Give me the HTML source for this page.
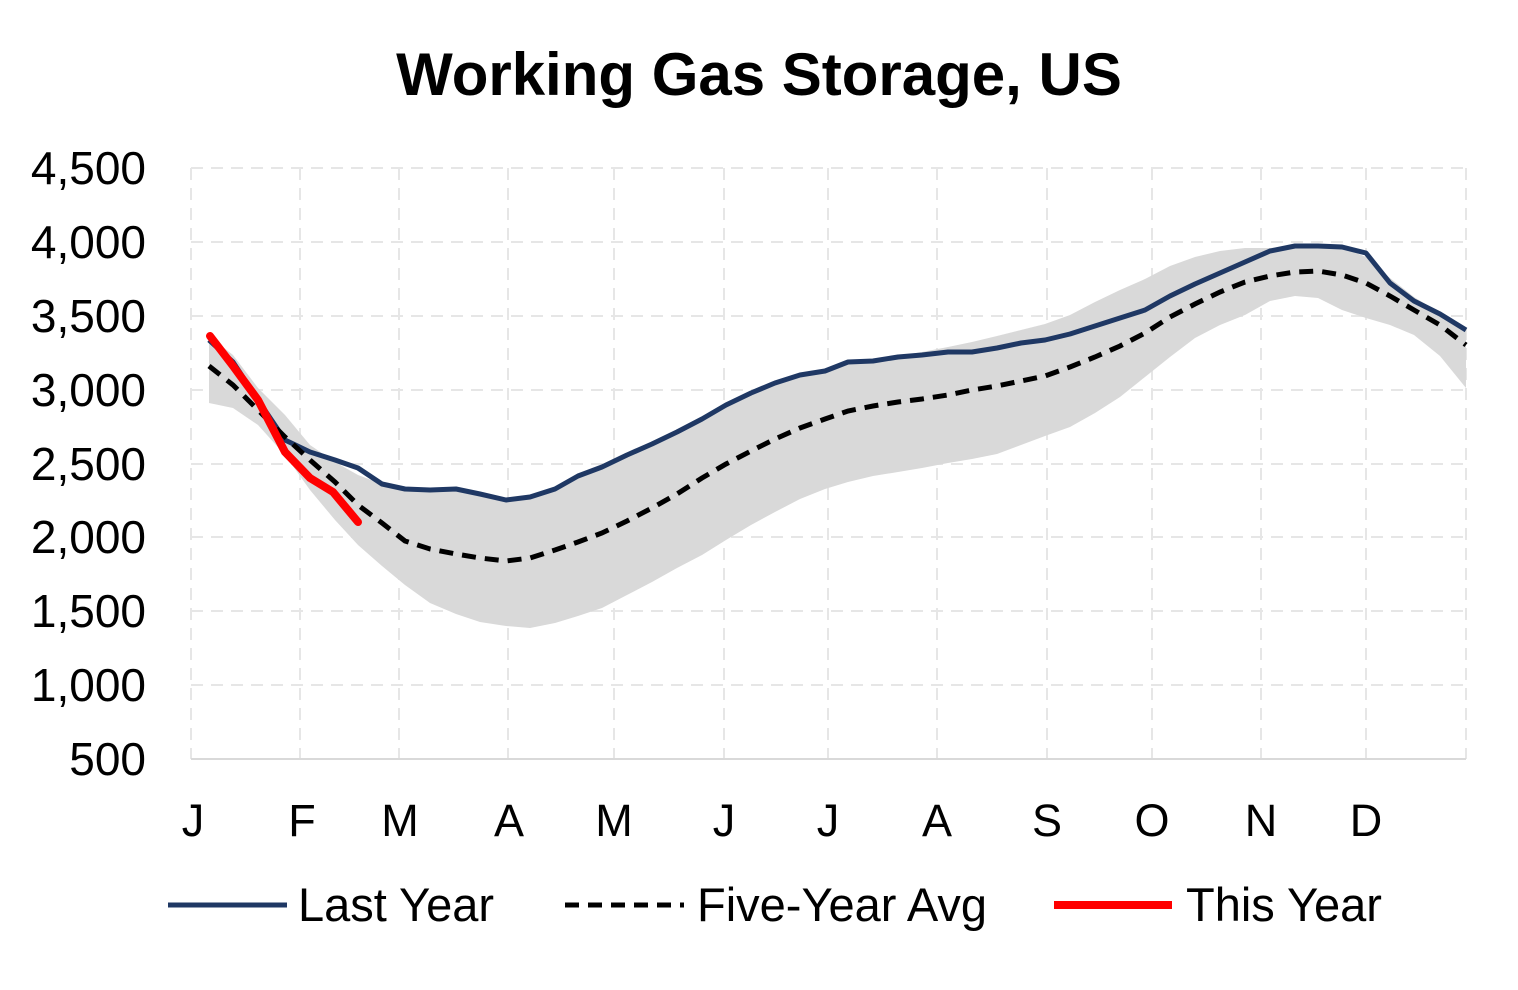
<!DOCTYPE html>
<html><head><style>body{margin:0;background:#fff}svg{display:block}text{font-family:"Liberation Sans",sans-serif}</style></head><body>
<svg width="1518" height="990" xmlns="http://www.w3.org/2000/svg">
<text x="759" y="95" text-anchor="middle" font-size="60" font-weight="bold">Working Gas Storage, US</text>
<g stroke="#e6e6e6" stroke-width="2" stroke-dasharray="12,8" fill="none">
<path d="M191 168H1466M191 242H1466M191 316H1466M191 390H1466M191 464H1466M191 537H1466M191 611H1466M191 685H1466"/>
<path d="M191 168V759M300 168V759M399 168V759M508 168V759M614 168V759M724 168V759M828 168V759M937 168V759M1047 168V759M1152 168V759M1261 168V759M1366 168V759M1466 168V759"/>
</g>
<polygon fill="#d9d9d9" points="209,336 233,355 258,388 285,415 310,445 335,462 358,475 382,484 405,489 430,490 456,489 480,494 506,500 530,497 555,489 578,476 602,467 627,455 652,444 677,432 702,419 726,405 751,393 775,383 800,375 825,371 848,362 873,360 898,356 922,352 948,347 972,342 997,336 1021,330 1045,324 1070,315 1095,302 1120,290 1145,279 1170,266 1195,257 1220,251 1245,248 1270,248 1295,246 1318,246 1342,247 1366,257 1390,278 1414,297 1440,313 1466,327 1466,388 1440,356 1414,335 1390,325 1366,318 1342,310 1318,298 1295,296 1270,301 1245,315 1220,325 1195,338 1170,357 1145,377 1120,397 1095,413 1070,427 1045,436 1021,445 997,454 972,459 948,463 922,468 898,472 873,476 848,482 825,489 800,499 775,512 751,525 726,540 702,555 677,568 652,582 627,595 602,608 578,616 555,623 530,628 506,626 480,622 456,614 430,603 405,585 382,566 358,545 335,520 310,490 285,455 258,425 233,408 209,403"/>
<line x1="191" y1="759" x2="1466" y2="759" stroke="#d9d9d9" stroke-width="2"/>
<polyline fill="none" stroke="#1f3864" stroke-width="5" stroke-linejoin="round" points="209,340 233,362 258,400 285,440 310,452 335,460 358,468 382,484 405,489 430,490 456,489 480,494 506,500 530,497 555,489 578,476 602,467 627,455 652,444 677,432 702,419 726,405 751,393 775,383 800,375 825,371 848,362 873,361 898,357 922,355 948,352 972,352 997,348 1021,343 1045,340 1070,334 1095,326 1120,318 1145,310 1170,296 1195,284 1220,273 1245,262 1270,251 1295,246 1318,246 1342,247 1366,253 1390,283 1414,301 1440,314 1466,330"/>
<polyline fill="none" stroke="#000" stroke-width="5" stroke-dasharray="14,9" points="209,366 233,385 258,410 285,437 310,460 335,482 358,505 382,523 405,541 430,549 456,554 480,558 506,561 530,558 555,550 578,542 602,533 627,521 652,508 677,494 702,478 726,464 751,451 775,439 800,428 825,419 848,411 873,406 898,402 922,399 948,395 972,390 997,386 1021,381 1045,376 1070,367 1095,357 1120,346 1145,333 1170,317 1195,304 1220,292 1245,282 1270,276 1295,272 1318,271 1342,275 1366,283 1390,296 1414,310 1440,325 1466,345"/>
<polyline fill="none" stroke="#ff0000" stroke-width="8" stroke-linecap="round" stroke-linejoin="round" points="210,336 233,366 258,400 285,452 310,478 333,492 358,522"/>
<g font-size="46" text-anchor="end">
<text x="146" y="184">4,500</text><text x="146" y="258">4,000</text><text x="146" y="332">3,500</text><text x="146" y="406">3,000</text><text x="146" y="480">2,500</text><text x="146" y="553">2,000</text><text x="146" y="627">1,500</text><text x="146" y="701">1,000</text><text x="146" y="775">500</text>
</g>
<g font-size="45" text-anchor="middle">
<text x="193" y="836">J</text><text x="302" y="836">F</text><text x="400" y="836">M</text><text x="509" y="836">A</text><text x="614" y="836">M</text><text x="724" y="836">J</text><text x="828" y="836">J</text><text x="937" y="836">A</text><text x="1047" y="836">S</text><text x="1152" y="836">O</text><text x="1261" y="836">N</text><text x="1366" y="836">D</text>
</g>
<line x1="168" y1="905" x2="287" y2="905" stroke="#1f3864" stroke-width="5"/>
<text x="298" y="921" font-size="47">Last Year</text>
<line x1="565" y1="905" x2="684" y2="905" stroke="#000" stroke-width="5" stroke-dasharray="14,9"/>
<text x="697" y="921" font-size="47">Five-Year Avg</text>
<line x1="1054" y1="905" x2="1172" y2="905" stroke="#ff0000" stroke-width="8"/>
<text x="1186" y="921" font-size="47">This Year</text>
</svg>
</body></html>
